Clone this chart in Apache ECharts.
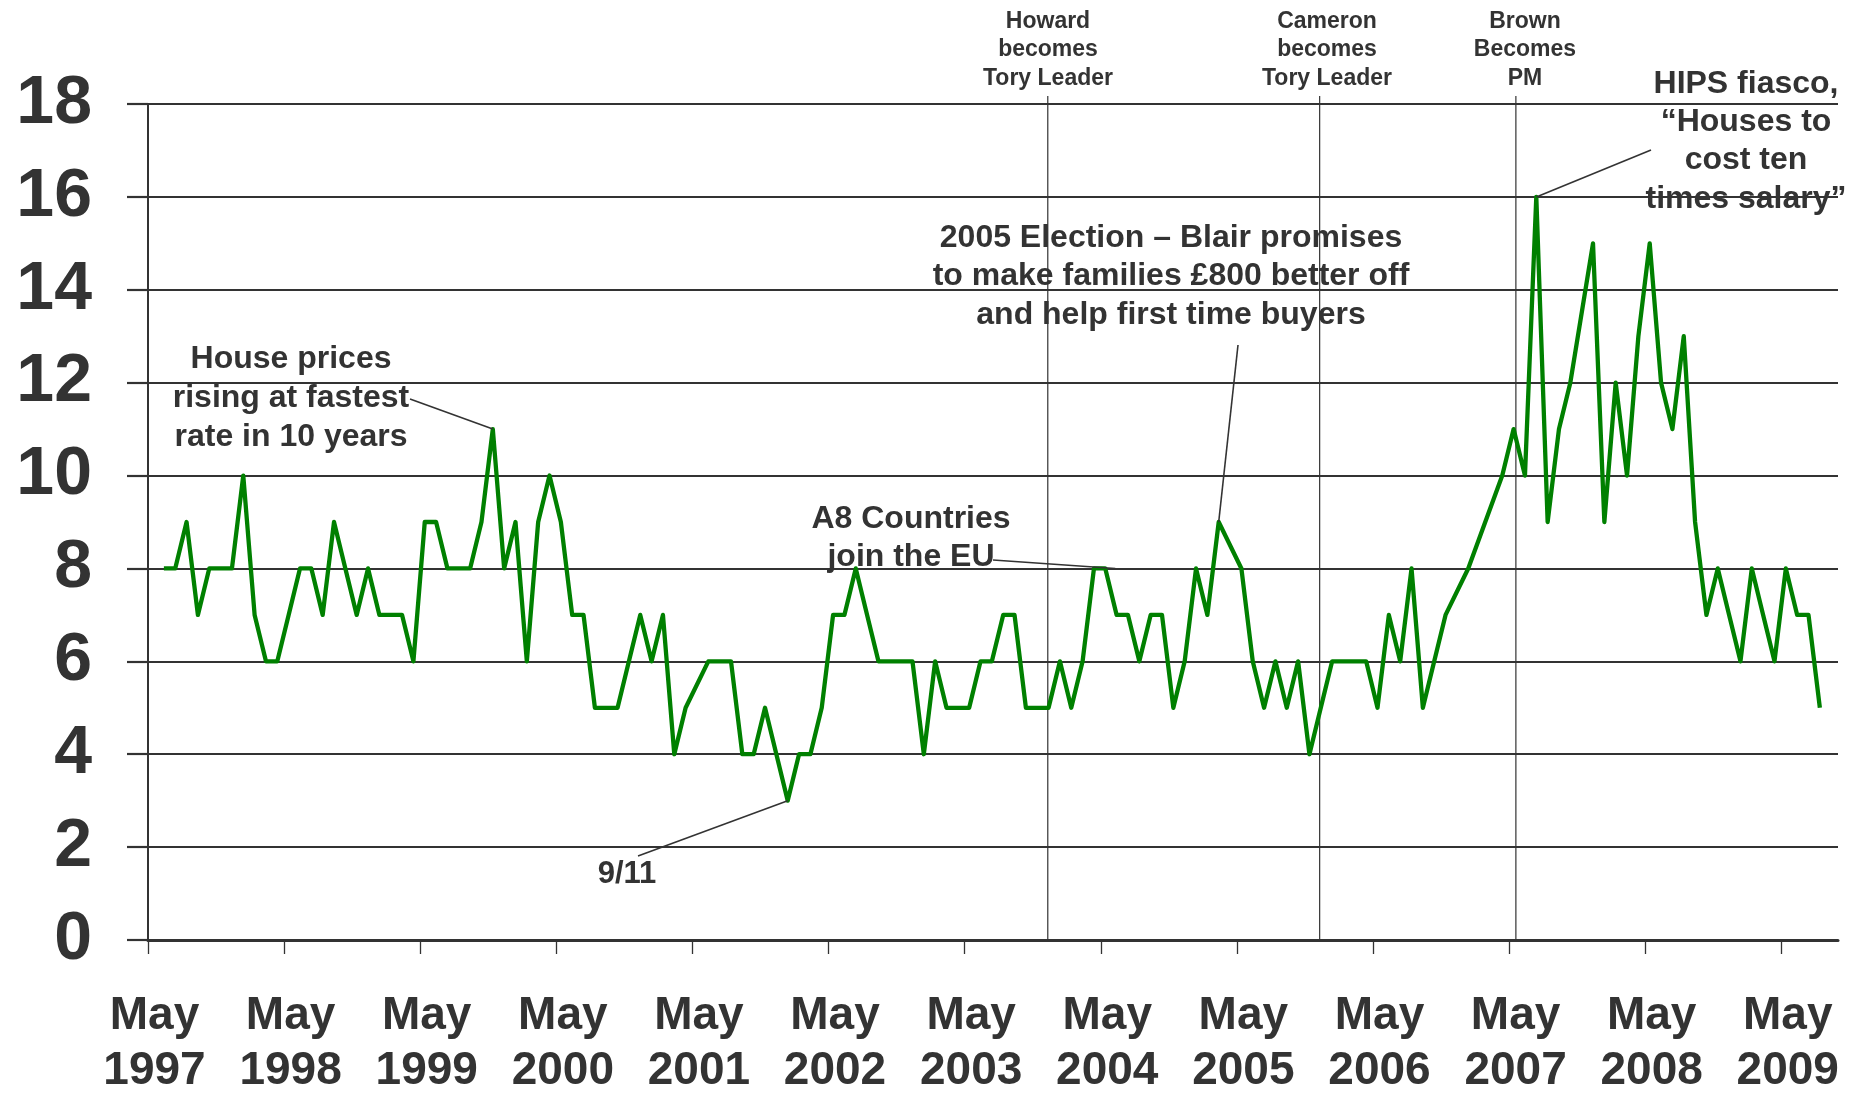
<!DOCTYPE html>
<html>
<head>
<meta charset="utf-8">
<script src="https://cdn.jsdelivr.net/npm/echarts@6/dist/echarts.min.js"></script>
<style>
html,body{margin:0;padding:0;background:#fff;}
#chart{width:1854px;height:1099px;}
</style>
</head>
<body>
<div id="chart"></div>
<script>
// ---- data ----
// months after 1 May 1997 of the first poll (mid June 1997); one value per month afterwards
const FIRST_POINT_MONTH = 1.4;
const values = [
  8,8,9,7,8,8,8,10,7,6,
  6,7,8,8,7,9,8,7,8,7,
  7,7,6,9,9,8,8,8,9,11,
  8,9,6,9,10,9,7,7,5,5,
  5,6,7,6,7,4,5,null,6,6,
  6,4,4,5,4,3,4,4,5,7,
  7,8,7,6,6,6,6,4,6,5,
  5,5,6,6,7,7,5,5,5,6,
  5,6,8,8,7,7,6,7,7,5,
  6,8,7,9,null,8,6,5,6,5,
  6,4,5,6,6,6,6,5,7,6,
  8,5,6,7,null,8,null,null,10,11,
  10,16,9,11,12,null,15,9,12,10,
  13,15,12,11,13,9,7,8,7,6,
  8,7,6,8,7,7,5
];
const tickMonths = [0,12,24,36,48,60,72,84,96,108,120,132,144];
const tickLabels = ['May\n1997','May\n1998','May\n1999','May\n2000','May\n2001','May\n2002','May\n2003','May\n2004','May\n2005','May\n2006','May\n2007','May\n2008','May\n2009'];
const eventNames = ['Howard\nbecomes\nTory Leader','Cameron\nbecomes\nTory Leader','Brown\nBecomes\nPM'];
const eventMonths = [79.33, 103.3, 120.6];

// ---- build ----
const points = values.map((v,i)=>[FIRST_POINT_MONTH + i, v]).filter(p=>p[1]!==null);
const FONT = '"Liberation Sans", Arial, sans-serif';
const TXT = '#333333';

const chart = echarts.init(document.getElementById('chart'), null, {renderer:'canvas'});
chart.setOption({
  animation:false,
  backgroundColor:'#ffffff',
  grid:{left:148, right:16, top:104, bottom:150, containLabel:false},
  xAxis:{
    type:'value', min:0, max:149,
    splitLine:{show:false},
    axisLine:{show:true, onZero:false, lineStyle:{color:'#333', width:3}},
    axisTick:{show:true, customValues:tickMonths, length:14, lineStyle:{color:'#333', width:1.3}},
    axisLabel:{
      show:true, customValues:tickMonths, margin:49,
      formatter:(v)=>{const i=tickMonths.indexOf(v); return i>=0?tickLabels[i]:'';},
      fontFamily:FONT, fontWeight:'bold', fontSize:46, lineHeight:55, color:TXT,
      padding:[0,0,0,13]
    }
  },
  yAxis:{
    type:'value', min:0, max:18, interval:2,
    axisLine:{show:true, lineStyle:{color:'#333', width:2}},
    axisTick:{show:true, length:21, lineStyle:{color:'#333', width:2.2}},
    splitLine:{show:true, lineStyle:{color:'#333', width:2.2}},
    axisLabel:{margin:56, fontFamily:FONT, fontWeight:'bold', fontSize:68, color:TXT}
  },
  series:[{
    type:'line',
    data:points,
    showSymbol:false,
    connectNulls:true,
    lineStyle:{color:'#008000', width:4.3, join:'round'},
    z:5
  }]
});

// annotations
function px(x,y){ return chart.convertToPixel({gridIndex:0},[x,y]); }
function pt(i){ return px(FIRST_POINT_MONTH+i, values[i]); }
const pHouse = pt(29), p911 = pt(55), pA8 = pt(83), pElec = pt(93), pHips = pt(121);

const textStyle = (t, size, lh)=>({text:t, fontFamily:FONT, fontWeight:'bold', fontSize:size, lineHeight:lh, fill:TXT, align:'center', verticalAlign:'middle'});
const lineEl = (x1,y1,x2,y2,z,w)=>({type:'line', silent:true, z:z||50, shape:{x1,y1,x2,y2}, style:{stroke:'#333', lineWidth:w||1.6}});
const txtEl = (x,y,style)=>({type:'text', silent:true, z:60, x, y, style});

const graphics = [
  txtEl(291, 398, textStyle('House prices\nrising at fastest\nrate in 10 years', 32, 39)),
  lineEl(410, 399, pHouse[0], pHouse[1]),
  txtEl(627, 874, textStyle('9/11', 31, 36)),
  lineEl(638, 856, p911[0], p911[1]),
  txtEl(911, 538.5, textStyle('A8 Countries\njoin the EU', 32, 38)),
  lineEl(993, 560, pA8[0]+10, pA8[1]),
  txtEl(1171, 276.5, textStyle('2005 Election \u2013 Blair promises\nto make families \u00a3800 better off\nand help first time buyers', 32, 38.5)),
  lineEl(1238, 345, pElec[0], pElec[1]),
  txtEl(1746, 141.5, textStyle('HIPS fiasco,\n\u201cHouses to\ncost ten\ntimes salary\u201d', 32, 38.2)),
  lineEl(1651, 150, pHips[0], pHips[1])
];
const eventLabelX = [1048, 1327, 1525];
eventMonths.forEach((m,i)=>{
  const b = px(m, 0), t = px(m, 18);
  graphics.push(lineEl(b[0], b[1], t[0], t[1]-8, 1, 1.2));
  graphics.push(txtEl(eventLabelX[i], 50, textStyle(eventNames[i], 23, 28.5)));
});
chart.setOption({graphic:graphics});
</script>
</body>
</html>
